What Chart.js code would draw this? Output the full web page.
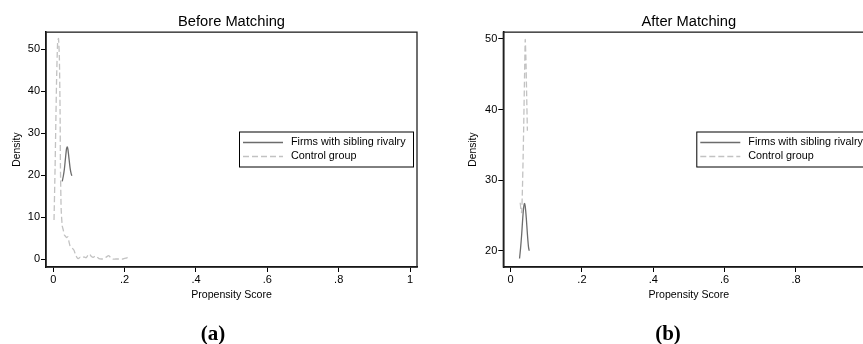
<!DOCTYPE html>
<html>
<head>
<meta charset="utf-8">
<script src="https://cdn.jsdelivr.net/npm/chart.js@4"></script>
<style>
  body { margin: 0; width: 863px; height: 344px; overflow: hidden; background: #fff; position: relative; }
  #before { position: absolute; left: 0; top: 0; }
  #after { position: absolute; left: 440px; top: 0; }
  .sub { position: absolute; top: 321px; width: 60px; margin-left: -30px; text-align: center;
         font: bold 21px "Liberation Serif", "DejaVu Serif", serif; line-height: 24px; color: #000; }
</style>
</head>
<body>
<canvas id="before" width="432" height="344"></canvas>
<canvas id="after" width="445" height="344"></canvas>
<div class="sub" style="left:213px">(a)</div>
<div class="sub" style="left:668px">(b)</div>
<script>
const scoreTicks = [0, 0.2, 0.4, 0.6, 0.8, 1];
const beforeDensityTicks = [0, 10, 20, 30, 40, 50];
const afterDensityTicks = [20, 30, 40, 50];

const seriesNames = ['Firms with sibling rivalry', 'Control group'];

// kernel density, before matching
const beforeTreatedX = [0.025, 0.028, 0.031, 0.034, 0.037, 0.039, 0.041, 0.044, 0.047, 0.050, 0.052];
const beforeTreatedY = [18.6, 19.8, 21.5, 24.0, 26.3, 26.8, 26.2, 24.0, 21.8, 20.4, 19.9];
const beforeControlX = [0.002, 0.005, 0.009, 0.012, 0.0145, 0.017, 0.019, 0.020, 0.022, 0.025, 0.028,
  0.031, 0.034, 0.038, 0.041, 0.044, 0.047, 0.050, 0.054, 0.058, 0.062, 0.066, 0.070, 0.075, 0.080,
  0.086, 0.092, 0.098, 0.102, 0.107, 0.112, 0.117, 0.122, 0.128, 0.135, 0.142, 0.149, 0.155, 0.160,
  0.166, 0.175, 0.185, 0.195, 0.203, 0.209];
const beforeControlY = [9.4, 22, 42, 51.5, 52.6, 48, 35, 22, 12, 8.0, 7.0,
  5.8, 5.5, 5.2, 5.4, 4.2, 3.2, 3.0, 2.6, 2.2, 1.2, 0.5, 0.2, 0.5, 0.3,
  0.6, 0.4, 1.1, 1.2, 0.7, 0.5, 0.8, 0.6, 0.2, 0.1, 0.2, 0.6, 0.9, 0.5,
  0.1, 0.1, 0.1, 0.1, 0.3, 0.5];

// kernel density, after matching
const afterTreatedX = [0.025, 0.028, 0.031, 0.034, 0.037, 0.039, 0.041, 0.044, 0.047, 0.050, 0.052];
const afterTreatedY = [18.9, 20.4, 22.3, 24.6, 26.3, 26.7, 26.3, 24.6, 22.4, 20.6, 20.0];
const afterControlX = [0.027, 0.029, 0.031, 0.033, 0.035, 0.037, 0.039, 0.041, 0.043, 0.045, 0.047];
const afterControlY = [26.8, 25.8, 25.4, 28.5, 33, 38.5, 44.5, 49.9, 47, 42, 37];

const toPoints = (xs, ys) => xs.map((x, i) => ({ x: x, y: ys[i] }));
const fmtScore = v => v === 0 ? '0' : v === 1 ? '1' : v.toFixed(1).replace('0.', '.');

const SANS = '"Liberation Sans", Arial, sans-serif';

// box around the plot region
const frame = {
  id: 'frame',
  afterDatasetsDraw(chart) {
    const { ctx, chartArea: a } = chart;
    ctx.save();
    ctx.strokeStyle = '#222';
    ctx.lineWidth = 1.3;
    ctx.strokeRect(a.left, a.top, a.right - a.left, a.bottom - a.top);
    ctx.restore();
  }
};

// legend box drawn inside the plot
const boxLegend = {
  id: 'boxLegend',
  afterDraw(chart) {
    const { ctx, chartArea } = chart;
    const x = chartArea.left + 193, y = 131.5, w = 174, h = 35;
    ctx.save();
    ctx.fillStyle = '#fff';
    ctx.fillRect(x, y, w, h);
    ctx.strokeStyle = '#000';
    ctx.lineWidth = 1;
    ctx.strokeRect(x + 0.5, y + 0.5, w, h);
    chart.data.datasets.forEach((ds, i) => {
      const ly = y + 11 + i * 14;
      ctx.strokeStyle = ds.borderColor;
      ctx.lineWidth = ds.borderWidth;
      ctx.setLineDash(ds.borderDash || []);
      ctx.beginPath();
      ctx.moveTo(x + 4, ly);
      ctx.lineTo(x + 44, ly);
      ctx.stroke();
      ctx.setLineDash([]);
      ctx.fillStyle = '#000';
      ctx.font = '10.8px ' + SANS;
      ctx.textBaseline = 'middle';
      ctx.fillText(ds.label, x + 52, ly);
    });
    ctx.restore();
  }
};

function makeChart(id, title, treated, control, yTicks, yMin, yMax, yWidth, yTitlePad, padRight) {
  const ctx = document.getElementById(id).getContext('2d');
  return new Chart(ctx, {
    type: 'line',
    data: {
      datasets: [{
        label: seriesNames[0],
        data: treated,
        borderColor: '#6c6c6c',
        borderWidth: 1.3,
        pointRadius: 0,
        tension: 0.2
      }, {
        label: seriesNames[1],
        data: control,
        borderColor: '#c2c2c2',
        borderWidth: 1.3,
        borderDash: [6, 3],
        pointRadius: 0,
        tension: 0.2
      }]
    },
    options: {
      responsive: false,
      animation: false,
      layout: { padding: { left: 0, right: padRight, top: 0, bottom: 43 } },
      scales: {
        x: {
          type: 'linear',
          min: -0.0205,
          max: 1.0196,
          afterBuildTicks: s => { s.ticks = scoreTicks.map(v => ({ value: v })); },
          afterFit: s => { s.height = 34; },
          ticks: { color: '#000', font: { family: SANS, size: 11 }, padding: 1, maxRotation: 0,
                   callback: v => fmtScore(v) },
          grid: { drawOnChartArea: false, drawTicks: true, tickLength: 5, color: '#000', tickWidth: 1 },
          border: { display: true, color: '#000', width: 1.5 },
          title: { display: true, text: 'Propensity Score', color: '#000',
                   font: { family: SANS, size: 10.6 }, padding: { top: 0, bottom: 0 } }
        },
        y: {
          type: 'linear',
          min: yMin,
          max: yMax,
          afterBuildTicks: s => { s.ticks = yTicks.map(v => ({ value: v })); },
          afterFit: s => { s.width = yWidth; },
          ticks: { color: '#000', font: { family: SANS, size: 11 }, padding: 1 },
          grid: { drawOnChartArea: false, drawTicks: true, tickLength: 5, color: '#000', tickWidth: 1 },
          border: { display: true, color: '#000', width: 1.5 },
          title: { display: true, text: 'Density', color: '#000',
                   font: { family: SANS, size: 10.3 }, padding: { top: yTitlePad, bottom: 0 } }
        }
      },
      plugins: {
        legend: { display: false },
        tooltip: { enabled: false },
        title: {
          display: true,
          text: title,
          fullSize: false,
          color: '#000',
          font: { family: SANS, size: 14.7, weight: 'normal' },
          padding: { top: 13.5, bottom: 1 }
        }
      }
    },
    plugins: [frame, boxLegend]
  });
}

makeChart('before', 'Before Matching',
  toPoints(beforeTreatedX, beforeTreatedY), toPoints(beforeControlX, beforeControlY),
  beforeDensityTicks, -1.8, 54.1, 46, 11, 15);

makeChart('after', 'After Matching',
  toPoints(afterTreatedX, afterTreatedY), toPoints(afterControlX, afterControlY),
  afterDensityTicks, 17.7, 50.95, 63.3, 27.3, 10.7);
</script>
</body>
</html>
